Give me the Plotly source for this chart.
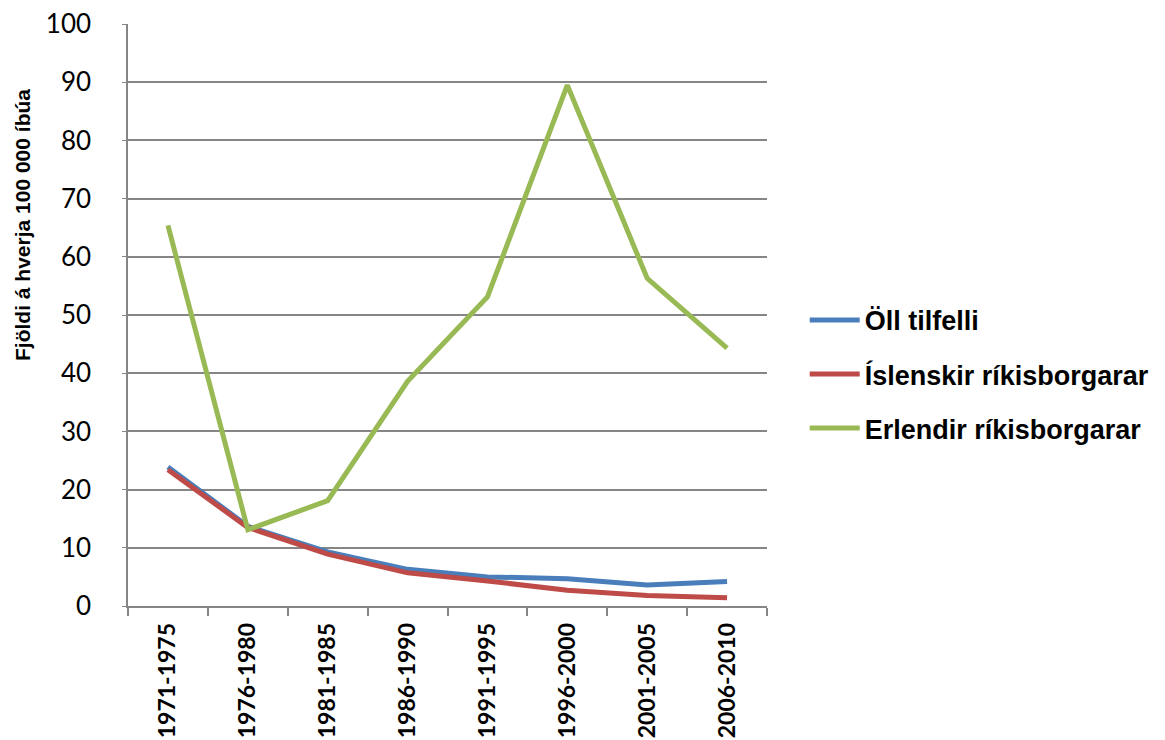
import plotly.graph_objects as go

categories = ["1971-1975", "1976-1980", "1981-1985", "1986-1990",
              "1991-1995", "1996-2000", "2001-2005", "2006-2010"]
oll_tilfelli = [23.9, 13.7, 9.3, 6.3, 5.0, 4.7, 3.6, 4.2]
islenskir = [23.4, 13.5, 8.9, 5.7, 4.3, 2.7, 1.8, 1.4]
erlendir = [65.4, 13.1, 18.1, 38.6, 53.1, 89.5, 56.3, 44.3]

series_names = ["Öll tilfelli", "Íslenskir ríkisborgarar", "Erlendir ríkisborgarar"]
series_values = [oll_tilfelli, islenskir, erlendir]
series_colors = ["#4A7EBB", "#BE4B48", "#98B954"]

y_title = "Fjöldi á hverja 100 000 íbúa"
y_ticks = [0, 10, 20, 30, 40, 50, 60, 70, 80, 90, 100]

fig = go.Figure()
for i, (name, vals, col) in enumerate(zip(series_names, series_values, series_colors)):
    fig.add_trace(go.Scatter(
        x=categories, y=vals, name=name, mode="lines",
        line=dict(color=col, width=5),
        legendgroup=f"g{i}",
    ))

grid = "#868686"
fig.update_layout(
    width=1165, height=740,
    margin=dict(l=120, r=406, t=16, b=142, autoexpand=False),
    plot_bgcolor="white", paper_bgcolor="white",
    showlegend=True,
    legend=dict(
        x=1.059, y=0.398, xanchor="left", yanchor="middle",
        font=dict(family="Liberation Sans, Arial, sans-serif", size=27, color="black", weight="bold"),
        traceorder="grouped", tracegroupgap=16, itemwidth=50,
        bgcolor="rgba(0,0,0,0)",
    ),
    xaxis=dict(
        type="category", categoryorder="array", categoryarray=categories,
        range=[-0.5, len(categories) - 0.5],
        tickson="boundaries", ticks="outside", ticklen=8, tickcolor=grid, tickwidth=1.5,
        showline=True, linecolor=grid, linewidth=1.5,
        showgrid=False, tickangle=-90, automargin=False,
        ticklabeloverflow="allow", ticklabelstandoff=6,
        tickfont=dict(family="Lato, sans-serif", size=23, color="black", weight="bold"),
    ),
    yaxis=dict(
        range=[0, 100], tickvals=y_ticks, ticktext=[str(v) for v in y_ticks],
        showgrid=True, gridcolor=grid, gridwidth=1.5,
        showline=True, linecolor=grid, linewidth=1.5,
        ticks="outside", ticklen=4, tickcolor=grid,
        ticklabelstandoff=26, automargin=False,
        ticklabeloverflow="allow",
        zeroline=False,
        tickfont=dict(family="Lato, sans-serif", size=26, color="black"),
    ),
    annotations=[dict(
        text=y_title, xref="paper", yref="paper",
        x=-0.164, y=0.655, xanchor="center", yanchor="middle",
        textangle=-90, showarrow=False,
        font=dict(family="Liberation Sans, Arial, sans-serif", size=21, color="black", weight="bold"),
    )],
)

fig.write_html("out.html")
